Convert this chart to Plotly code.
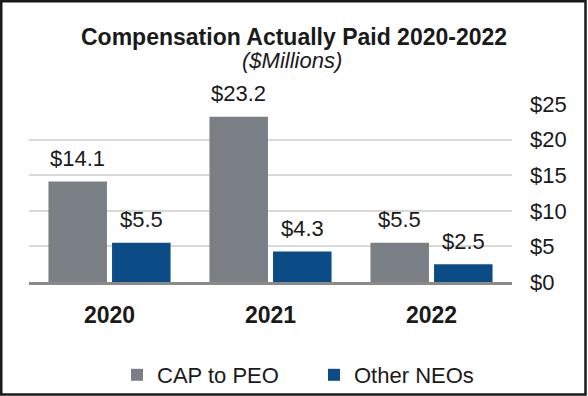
import plotly.graph_objects as go

years = ["2020", "2021", "2022"]
cap_peo = [14.1, 23.2, 5.5]
other_neos = [5.5, 4.3, 2.5]
y_ticks = [0, 5, 10, 15, 20, 25]
y_tick_labels = ["$0", "$5", "$10", "$15", "$20", "$25"]

W, H = 588, 396
L, R, T, B = 29, 76, 104, 114
PW, PH = W - L - R, H - T - B

FONT = "Liberation Sans, Arial, sans-serif"
TXT = "#1a1a1a"
GRAY = "#7a7f86"
NAVY = "#0c4c86"

def px_to_paper_x(px):
    return (px - L) / PW

def px_to_paper_y(py):
    return (H - B - py) / PH

fig = go.Figure()
fig.add_trace(go.Bar(name="CAP to PEO", x=years, y=cap_peo,
                     marker=dict(color=GRAY, line=dict(width=0))))
fig.add_trace(go.Bar(name="Other NEOs", x=years, y=other_neos,
                     marker=dict(color=NAVY, line=dict(width=0))))

# data labels above bars
offset = 0.197
for i, (a, b) in enumerate(zip(cap_peo, other_neos)):
    for val, dx in ((a, -offset), (b, offset)):
        fig.add_annotation(x=i + dx, y=val, xref="x", yref="y",
                           text=f"${val:.1f}", showarrow=False,
                           yanchor="middle", yshift=23,
                           font=dict(family=FONT, size=22, color=TXT))

# title & subtitle
fig.add_annotation(x=px_to_paper_x(294), y=px_to_paper_y(37), xref="paper", yref="paper",
                   text="<b>Compensation Actually Paid 2020-2022</b>", showarrow=False,
                   xanchor="center", yanchor="middle",
                   font=dict(family=FONT, size=23, color=TXT))
fig.add_annotation(x=px_to_paper_x(292), y=px_to_paper_y(61), xref="paper", yref="paper",
                   text="<i>($Millions)</i>", showarrow=False,
                   xanchor="center", yanchor="middle",
                   font=dict(family=FONT, size=22, color=TXT))

# outer border
fig.add_shape(type="rect", xref="paper", yref="paper",
              x0=px_to_paper_x(1.25), x1=px_to_paper_x(585.5),
              y0=px_to_paper_y(394.6), y1=px_to_paper_y(1.25),
              line=dict(color="#1a1a1a", width=2.5), layer="above")

fig.update_layout(
    width=W, height=H,
    margin=dict(l=L, r=R, t=T, b=B),
    paper_bgcolor="white", plot_bgcolor="white",
    barmode="group", bargap=0.21, bargroupgap=0.08,
    font=dict(family=FONT, size=22, color=TXT),
    showlegend=True,
    legend=dict(orientation="h", xref="container", yref="container",
                x=0.534, xanchor="center", y=1 - 375 / H, yanchor="middle",
                font=dict(family=FONT, size=22, color=TXT),
                itemwidth=30, entrywidth=152, bgcolor="rgba(0,0,0,0)"),
    xaxis=dict(showline=True, linecolor="#8a8a8a", linewidth=3,
               showgrid=False, ticks="", ticklabelstandoff=10,
               tickfont=dict(family=FONT, size=23, color=TXT),
               tickvals=years, ticktext=[f"<b>{y}</b>" for y in years]),
    yaxis=dict(side="right", range=[0, 25], tickvals=y_ticks, ticktext=y_tick_labels,
               showgrid=True, gridcolor="#d9d9d9", gridwidth=1.5,
               zeroline=False, showline=False, ticks="",
               ticklabelstandoff=17,
               tickfont=dict(family=FONT, size=22, color=TXT)),
)

fig.write_html("out.html", config={"displayModeBar": False},
               post_script="document.body.style.margin='0';")
